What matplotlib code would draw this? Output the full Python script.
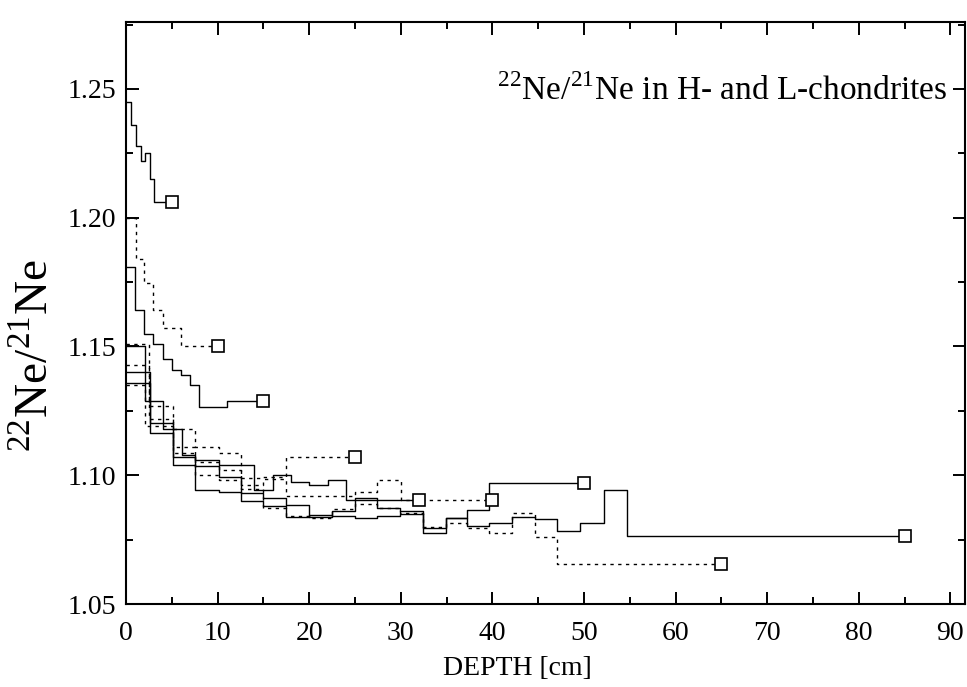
import matplotlib.pyplot as plt
from matplotlib.ticker import MultipleLocator, FormatStrFormatter

plt.rcParams['font.family'] = 'Liberation Serif'
plt.rcParams['mathtext.fontset'] = 'custom'
plt.rcParams['mathtext.rm'] = 'Liberation Serif'

# 22Ne/21Ne depth profiles: step edges in cm and the ratio inside each step
# (last value repeated at the end point, which carries the open square)
depth_r5 = [0, 0.6, 1.1, 1.6, 2.1, 2.6, 3.1, 5]
ne_r5 = [1.245, 1.236, 1.228, 1.222, 1.225, 1.215, 1.206, 1.206]

depth_r10 = [0, 1.1, 2.0, 3.0, 4.0, 6.0, 10]
ne_r10 = [1.200, 1.184, 1.1745, 1.164, 1.157, 1.150, 1.150]

depth_r15 = [0, 1.0, 2.0, 3.0, 4.0, 5.0, 6.0, 7.0, 8.0, 11.0, 15]
ne_r15 = [1.181, 1.164, 1.155, 1.151, 1.145, 1.141, 1.139, 1.135, 1.1265, 1.129, 1.129]

depth_r25 = [0, 2.5, 5.1, 7.5, 10.1, 12.6, 15.0, 17.5, 25]
ne_r25 = [1.151, 1.127, 1.118, 1.111, 1.1085, 1.0988, 1.0995, 1.107, 1.107]

depth_r32 = [0, 2.07, 4.07, 6.08, 7.5, 10.1, 14.0, 16.0, 18.0, 20.0, 22.0, 24.0, 32]
ne_r32 = [1.150, 1.129, 1.118, 1.108, 1.106, 1.104, 1.0943, 1.100, 1.0973, 1.0962,
          1.0982, 1.0904, 1.0904]

depth_r40 = [0, 2.5, 5.1, 7.5, 10.1, 12.6, 15.0, 17.5, 20.0, 22.5, 25.0, 27.4, 30.0, 40]
ne_r40 = [1.143, 1.122, 1.111, 1.1053, 1.102, 1.0962, 1.0984, 1.092, 1.0919, 1.0919,
          1.0936, 1.098, 1.0904, 1.0904]

depth_r50 = [0, 2.6, 5.1, 7.5, 10.1, 12.6, 15.0, 17.5, 20.0, 22.5, 25.0, 27.4, 29.9,
             32.4, 34.9, 37.2, 39.6, 50]
ne_r50 = [1.140, 1.1202, 1.1072, 1.1034, 1.0992, 1.093, 1.091, 1.0884, 1.0839, 1.0861,
          1.0913, 1.0872, 1.0861, 1.0794, 1.0833, 1.0865, 1.097, 1.097]

depth_r65 = [0, 2.07, 5.1, 7.5, 10.1, 12.6, 15.0, 17.5, 20.0, 22.5, 25.0, 27.4, 29.9,
             32.4, 34.9, 37.2, 39.6, 42.1, 44.6, 47.1, 65]
ne_r65 = [1.135, 1.119, 1.1085, 1.1001, 1.0982, 1.0945, 1.0872, 1.0842, 1.0833, 1.0870,
          1.0890, 1.0872, 1.0853, 1.0800, 1.0813, 1.0794, 1.0775, 1.0853, 1.0762,
          1.0654, 1.0654]

depth_r85 = [0, 2.6, 5.1, 7.5, 10.1, 12.6, 15.0, 17.5, 20.0, 22.5, 25.0, 27.4, 29.9,
             32.4, 34.9, 37.2, 39.6, 42.1, 44.6, 47.1, 49.6, 52.2, 54.7, 85]
ne_r85 = [1.136, 1.1163, 1.104, 1.0943, 1.0936, 1.0901, 1.0881, 1.0839, 1.0845, 1.0842,
          1.0833, 1.0842, 1.0848, 1.0775, 1.0833, 1.0803, 1.0813, 1.0839, 1.083,
          1.0785, 1.0813, 1.0943, 1.0764, 1.0764]

solid = '-'
dotted = (0, (2.4, 3.2))
profiles = [
    (depth_r5, ne_r5, solid),
    (depth_r10, ne_r10, dotted),
    (depth_r15, ne_r15, solid),
    (depth_r25, ne_r25, dotted),
    (depth_r32, ne_r32, solid),
    (depth_r40, ne_r40, dotted),
    (depth_r50, ne_r50, solid),
    (depth_r65, ne_r65, dotted),
    (depth_r85, ne_r85, solid),
]

fig, ax = plt.subplots(figsize=(9.67, 6.87), dpi=100)
fig.subplots_adjust(left=0.1303, right=0.998, bottom=0.1208, top=0.968)

for depth, ratio, ls in profiles:
    ax.plot(depth, ratio, drawstyle='steps-post', color='black', lw=1.0,
            linestyle=ls, zorder=2)
    ax.plot(depth[-1], ratio[-1], marker='s', ms=8.5, mfc='white', mec='black',
            mew=1.2, linestyle='none', zorder=3)

ax.set_xlim(0, 91.6)
ax.set_ylim(1.05, 1.276)
ax.xaxis.set_major_locator(MultipleLocator(10))
ax.xaxis.set_minor_locator(MultipleLocator(5))
ax.yaxis.set_major_locator(MultipleLocator(0.05))
ax.yaxis.set_minor_locator(MultipleLocator(0.025))
ax.yaxis.set_major_formatter(FormatStrFormatter('%.2f'))

ax.tick_params(which='both', direction='in', top=True, right=True, width=1.4,
               labelsize=20)
ax.tick_params(which='major', length=9)
ax.tick_params(axis='x', which='major', pad=12)
ax.tick_params(axis='y', which='major', pad=7)
ax.tick_params(which='minor', length=5)
for spine in ax.spines.values():
    spine.set_linewidth(1.5)

ax.set_xlabel('DEPTH [cm]', fontsize=20, va='center')
ax.xaxis.set_label_coords(0.466, -0.11)
ax.set_ylabel(r'$^{22}$Ne/$^{21}$Ne', fontsize=34, va='center')
ax.yaxis.set_label_coords(-0.107, 0.428)

ax.text(89.7, 1.2494, r'$^{22}$Ne/$^{21}$Ne in H- and L-chondrites',
        fontsize=24, ha='right', va='center')

plt.savefig('out.png', dpi=100)
